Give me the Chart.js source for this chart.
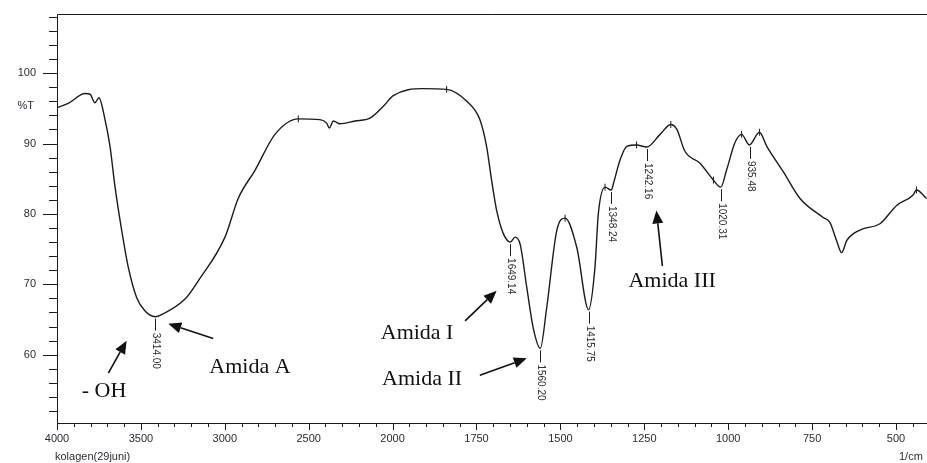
<!DOCTYPE html>
<html>
<head>
<meta charset="utf-8">
<script src="https://cdn.jsdelivr.net/npm/chart.js@4"></script>
<style>
  html, body { margin: 0; padding: 0; background: #fff; }
  #wrap { width: 927px; height: 463px; position: relative; }
</style>
</head>
<body>
<div id="wrap"><canvas id="ftir"></canvas></div>
<script>
// FTIR spectrum, kolagen (29 juni). Wavenumber in 1/cm, transmittance in %T.
const wavenumbers = [4000, 3933, 3833, 3803, 3774, 3750, 3714, 3684, 3654, 3614, 3575, 3525, 3475, 3414, 3376,
  3237, 3158, 2999, 2920, 2820, 2701, 2562, 2433, 2393, 2377, 2353, 2314, 2224, 2135, 2055, 1998, 1909, 1839,
  1779, 1740, 1720, 1705, 1690, 1670, 1649, 1635, 1620, 1600, 1581, 1560, 1541, 1511, 1486, 1451, 1416, 1397,
  1387, 1367, 1348, 1342, 1322, 1302, 1273, 1243, 1203, 1171, 1153, 1129, 1084, 1044, 1022, 1005, 980, 960,
  937, 907, 885, 836, 786, 717, 697, 677, 662, 647, 627, 597, 548, 498, 449, 439, 409];
const transmittance = [95.1, 95.7, 97.1, 97.0, 95.8, 96.5, 93.4, 89.6, 83.8, 77.6, 72.4, 68.1, 66.2, 65.4, 65.7,
  67.9, 70.5, 76.7, 82.2, 86.2, 91.3, 93.5, 93.4, 92.9, 92.2, 93.2, 92.8, 93.2, 93.6, 95.3, 96.8, 97.8, 97.7,
  96.0, 93.4, 89.6, 84.8, 80.5, 77.2, 76.0, 76.7, 75.7, 69.5, 63.8, 60.9, 66.6, 77.6, 79.4, 75.2, 66.4, 72.4,
  80.0, 83.8, 83.4, 84.3, 87.7, 89.6, 89.8, 89.5, 91.3, 92.7, 92.0, 88.9, 87.2, 84.8, 83.8, 86.2, 90.1, 91.3,
  89.8, 91.6, 89.6, 86.0, 82.2, 79.5, 78.8, 76.2, 74.5, 76.2, 77.2, 77.9, 78.6, 81.2, 82.7, 83.4, 82.2];

// labelled minima
const peakWavenumbers = [3414.00, 1649.14, 1560.20, 1415.75, 1348.24, 1242.16, 1020.31, 935.48];
const peakTransmittance = [65.4, 76.0, 60.9, 66.4, 83.4, 89.5, 83.8, 89.8];
const peakLabels = ["3414.00", "1649.14", "1560.20", "1415.75", "1348.24", "1242.16", "1020.31", "935.48"];

// small "+" marks at the maxima
const maxWavenumbers = [2562, 1839, 1486, 1367, 1273, 1171, 1044, 960, 907, 439];
const maxTransmittance = [93.5, 97.7, 79.4, 83.8, 89.8, 92.7, 84.8, 91.3, 91.6, 83.4];

const xTickLabels = ["4000", "3500", "3000", "2500", "2000", "1750", "1500", "1250", "1000", "750", "500"];
const yTickLabels = [60, 70, 80, 90, 100];

// annotations: text at [w, T], arrow from tail [w, T] to tip [w, T]
const noteTexts = ["- OH", "Amida A", "Amida I", "Amida II", "Amida III"];
const noteAt = [[3720, 54.75], [2850, 58.2], [1927, 63.05], [1912, 56.5], [1167, 70.4]];
const arrowTail = [[3694, 57.4], [3069, 62.3], [1784, 64.8], [1740, 57.1], [1196, 72.6]];
const arrowTip = [[3585, 62.0], [3337, 64.4], [1690, 69.1], [1600, 59.5], [1214, 80.5]];

const INK = "#1b1b1b";
const TEXT = "#2b2b33";

// the instrument plots 4000-2000 at half the scale of 2000-400
function toPos(w) {
  return w >= 2000 ? (4000 - w) / 500 : 4 + (2000 - w) / 250;
}

function arrow(ctx, x1, y1, x2, y2) {
  const ang = Math.atan2(y2 - y1, x2 - x1);
  const len = 13, half = 5.5;
  const bx = x2 - len * Math.cos(ang), by = y2 - len * Math.sin(ang);
  ctx.beginPath();
  ctx.moveTo(x1, y1);
  ctx.lineTo(bx, by);
  ctx.lineWidth = 1.6;
  ctx.strokeStyle = "#111";
  ctx.stroke();
  ctx.beginPath();
  ctx.moveTo(x2, y2);
  ctx.lineTo(bx + half * Math.sin(ang), by - half * Math.cos(ang));
  ctx.lineTo(bx - half * Math.sin(ang), by + half * Math.cos(ang));
  ctx.closePath();
  ctx.fillStyle = "#111";
  ctx.fill();
}

const decorations = {
  id: "decorations",
  afterDraw(chart) {
    const { ctx, chartArea: a } = chart;
    const xs = chart.scales.x, ys = chart.scales.y;
    ctx.save();

    // frame (right side is cut off in the original)
    ctx.strokeStyle = INK;
    ctx.lineWidth = 1;
    ctx.beginPath();
    ctx.moveTo(chart.width, a.top + 0.5);
    ctx.lineTo(a.left + 0.5, a.top + 0.5);
    ctx.lineTo(a.left + 0.5, a.bottom + 0.5);
    ctx.lineTo(chart.width, a.bottom + 0.5);
    ctx.stroke();

    // tick marks
    ctx.beginPath();
    for (const t of ys.ticks) {
      const y = Math.round(ys.getPixelForValue(t.value)) + 0.5;
      const major = t.value % 10 === 0;
      ctx.moveTo(a.left, y);
      ctx.lineTo(a.left - (major ? 14 : 8), y);
    }
    for (const t of xs.ticks) {
      const x = Math.round(xs.getPixelForValue(t.value)) + 0.5;
      const major = Math.abs(t.value - Math.round(t.value)) < 1e-6;
      ctx.moveTo(x, a.bottom);
      ctx.lineTo(x, a.bottom + (major ? 7 : 4));
    }
    ctx.stroke();

    ctx.fillStyle = TEXT;
    ctx.font = "11px 'Liberation Sans', Arial, sans-serif";
    ctx.textAlign = "right";
    ctx.textBaseline = "middle";
    ctx.fillText("%T", 34, ys.getPixelForValue(95.3));
    ctx.textAlign = "left";
    ctx.fillText("kolagen(29juni)", 55, 457);
    ctx.fillText("1/cm", 899, 457);

    // peak labels under the minima
    ctx.strokeStyle = INK;
    ctx.lineWidth = 1;
    ctx.font = "10px 'Liberation Sans', Arial, sans-serif";
    peakWavenumbers.forEach((w, i) => {
      const x = Math.round(xs.getPixelForValue(toPos(w))) + 0.5;
      const y = ys.getPixelForValue(peakTransmittance[i]);
      ctx.beginPath();
      ctx.moveTo(x, y + 2);
      ctx.lineTo(x, y + 14);
      ctx.stroke();
      ctx.save();
      ctx.translate(x, y + 16);
      ctx.rotate(Math.PI / 2);
      ctx.textAlign = "left";
      ctx.textBaseline = "middle";
      ctx.fillStyle = TEXT;
      ctx.fillText(peakLabels[i], 0, 0);
      ctx.restore();
    });

    // annotations
    ctx.font = "22px 'Liberation Serif', 'Times New Roman', serif";
    ctx.textAlign = "center";
    ctx.textBaseline = "middle";
    ctx.fillStyle = "#111";
    noteTexts.forEach((txt, i) => {
      const [w, t] = noteAt[i];
      ctx.fillText(txt, xs.getPixelForValue(toPos(w)), ys.getPixelForValue(t));
      const [w1, t1] = arrowTail[i];
      const [w2, t2] = arrowTip[i];
      arrow(ctx, xs.getPixelForValue(toPos(w1)), ys.getPixelForValue(t1),
        xs.getPixelForValue(toPos(w2)), ys.getPixelForValue(t2));
    });

    ctx.restore();
  },
};

new Chart(document.getElementById("ftir"), {
  type: "line",
  data: {
    datasets: [{
      data: wavenumbers.map((w, i) => ({ x: toPos(w), y: transmittance[i] })),
      borderColor: INK,
      borderWidth: 1.4,
      pointRadius: 0,
      cubicInterpolationMode: "monotone",
      // the spectrum runs on past the cropped right edge
      clip: { left: 0, top: 0, right: 12, bottom: 0 },
    }, {
      data: maxWavenumbers.map((w, i) => ({ x: toPos(w), y: maxTransmittance[i] })),
      showLine: false,
      pointStyle: "line",
      rotation: 90,
      pointRadius: 3.5,
      borderColor: INK,
      borderWidth: 1,
    }],
  },
  options: {
    responsive: true,
    maintainAspectRatio: false,
    devicePixelRatio: 1,
    animation: false,
    events: [],
    layout: { padding: { top: 14, left: 0, right: 0, bottom: 0 } },
    plugins: { legend: { display: false }, tooltip: { enabled: false } },
    scales: {
      x: {
        type: "linear",
        min: 0,
        max: 10.31,
        // tick marks are drawn by the plugin; tickLength only spaces the labels
        grid: { display: false, drawTicks: true, tickLength: 9 },
        border: { display: false },
        afterBuildTicks: (s) => {
          s.ticks = [];
          for (let k = 0; k <= 51; k++) s.ticks.push({ value: k / 5 });
        },
        afterFit: (s) => { s.height = 40; },
        ticks: {
          autoSkip: false,
          maxRotation: 0,
          padding: 0,
          color: TEXT,
          font: { family: "'Liberation Sans', Arial, sans-serif", size: 11 },
          callback: (v) => {
            const k = Math.round(v);
            return Math.abs(v - k) < 1e-6 && xTickLabels[k] ? xTickLabels[k] : "";
          },
        },
      },
      y: {
        min: 50.3,
        max: 108.4,
        grid: { display: false, drawTicks: true, tickLength: 21 },
        border: { display: false },
        afterBuildTicks: (s) => {
          s.ticks = [];
          for (let v = 52; v <= 108; v += 2) s.ticks.push({ value: v });
        },
        afterFit: (s) => { s.width = 57; },
        ticks: {
          autoSkip: false,
          padding: 0,
          color: TEXT,
          font: { family: "'Liberation Sans', Arial, sans-serif", size: 11 },
          callback: (v) => (yTickLabels.includes(v) ? String(v) : ""),
        },
      },
    },
  },
  plugins: [decorations],
});
</script>
</body>
</html>
